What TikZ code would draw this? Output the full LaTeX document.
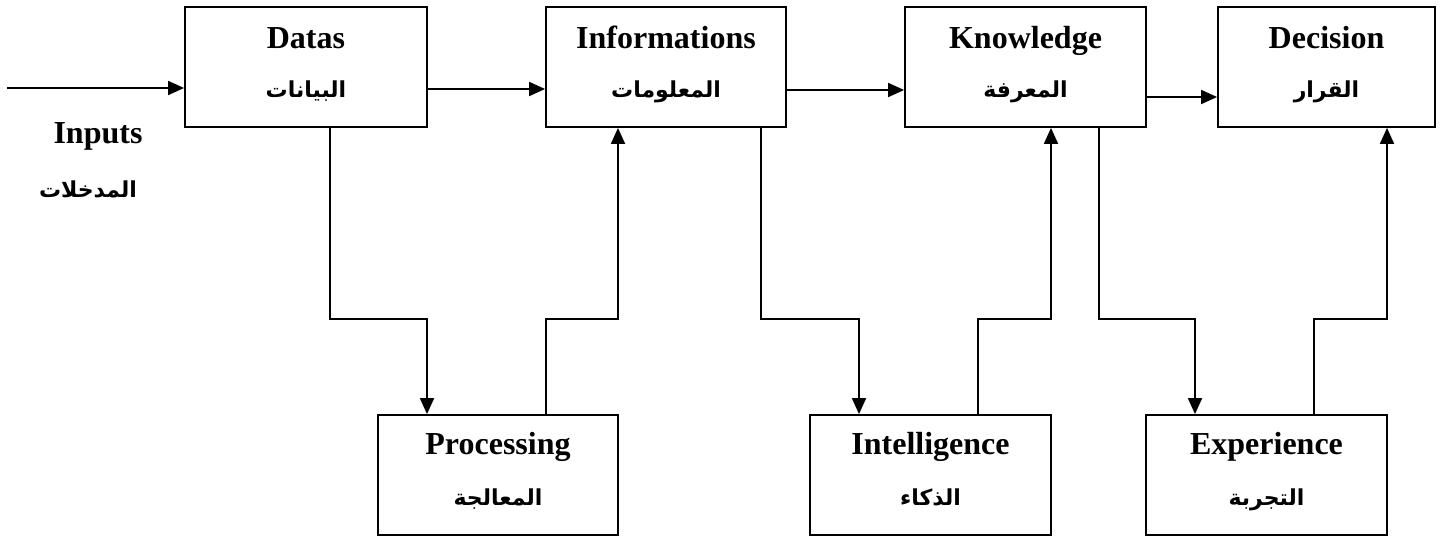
\documentclass[tikz,border=0pt]{standalone}
\usepackage{fontspec}
\setmainfont{Liberation Serif}
\newfontfamily\arabicfont[Script=Arabic]{DejaVu Sans}
\TeXXeTstate=1
\usetikzlibrary{arrows.meta}
\begin{document}
\begin{tikzpicture}[x=1pt,y=-1pt,
  box/.style={draw,line width=1.8pt,minimum height=120pt,inner sep=0pt},
  en/.style={font=\fontsize{32}{36}\selectfont\bfseries,anchor=base,inner sep=0pt},
  ar/.style={font=\arabicfont\fontsize{22}{26}\selectfont\bfseries,anchor=base,inner sep=0pt},
  ln/.style={line width=1.8pt},
  arr/.style={line width=1.8pt,-{Triangle[length=16pt,width=14pt]}}]
\useasboundingbox (0,0) rectangle (1446,539);
% top boxes
\node[box,minimum width=242pt] (datas) at (306,67) {};
\node[box,minimum width=240pt] (info) at (666,67) {};
\node[box,minimum width=241pt] (know) at (1025.5,67) {};
\node[box,minimum width=217pt] (dec) at (1326.5,67) {};
% bottom boxes
\node[box,minimum width=240pt] (proc) at (498,475) {};
\node[box,minimum width=241pt] (intel) at (930.5,475) {};
\node[box,minimum width=241pt] (exper) at (1266.5,475) {};
% texts
\node[en] (datasE) at ([yshift=19pt]datas.center) {Datas};
\node[ar] (datasA) at ([yshift=-30pt]datas.center) {\beginR البيانات\endR};
\node[en] (infoE) at ([yshift=19pt]info.center) {Informations};
\node[ar] (infoA) at ([yshift=-30pt]info.center) {\beginR المعلومات\endR};
\node[en] (knowE) at ([yshift=19pt]know.center) {Knowledge};
\node[ar] (knowA) at ([yshift=-30pt]know.center) {\beginR المعرفة\endR};
\node[en] (decE) at ([yshift=19pt]dec.center) {Decision};
\node[ar] (decA) at ([yshift=-30pt]dec.center) {\beginR القرار\endR};
\node[en] (procE) at ([yshift=21pt]proc.center) {Processing};
\node[ar] (procA) at ([yshift=-30pt]proc.center) {\beginR المعالجة\endR};
\node[en] (intelE) at ([yshift=21pt]intel.center) {Intelligence};
\node[ar] (intelA) at ([yshift=-30pt]intel.center) {\beginR الذكاء\endR};
\node[en] (experE) at ([yshift=21pt]exper.center) {Experience};
\node[ar] (experA) at ([yshift=-30pt]exper.center) {\beginR التجربة\endR};
\node[en] (inputsE) at (98,143) {Inputs};
\node[ar] (inputsA) at (88,197) {\beginR المدخلات\endR};
% input arrow
\coordinate (in) at (7,88);
\draw[arr] (in) -- (datas.west |- in);
% horizontal arrows
\draw[arr] (datas.east |- 0,89) -- (info.west |- 0,89);
\draw[arr] (info.east |- 0,90) -- (know.west |- 0,90);
\draw[arr] (know.east |- 0,97) -- (dec.west |- 0,97);
% loops
\draw[arr] (datas.south -| 330,0) -- (330,319) -- (427,319) -- (proc.north -| 427,0);
\draw[arr] (proc.north -| 546,0) -- (546,319) -- (618,319) -- (info.south -| 618,0);
\draw[arr] (info.south -| 761,0) -- (761,319) -- (859,319) -- (intel.north -| 859,0);
\draw[arr] (intel.north -| 978,0) -- (978,319) -- (1051,319) -- (know.south -| 1051,0);
\draw[arr] (know.south -| 1099,0) -- (1099,319) -- (1195,319) -- (exper.north -| 1195,0);
\draw[arr] (exper.north -| 1314,0) -- (1314,319) -- (1387,319) -- (dec.south -| 1387,0);
\end{tikzpicture}
\end{document}
